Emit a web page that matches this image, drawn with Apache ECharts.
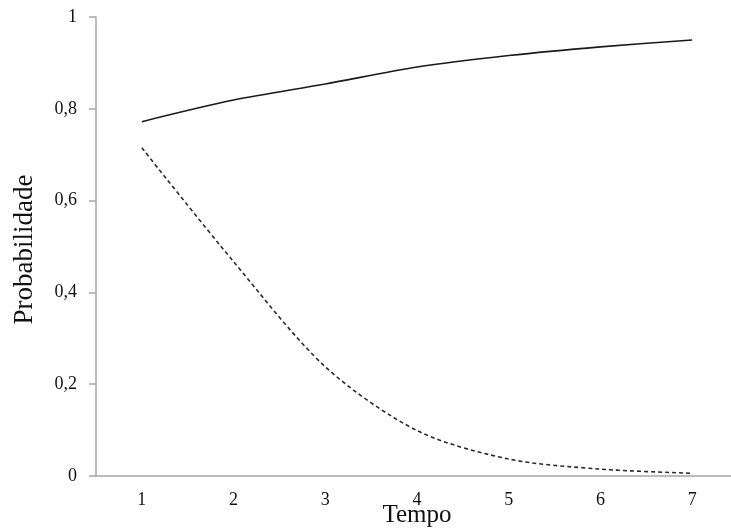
<!DOCTYPE html>
<html>
<head>
<meta charset="utf-8">
<script src="https://cdn.jsdelivr.net/npm/echarts@6/dist/echarts.min.js"></script>
<style>
  html, body { margin: 0; padding: 0; background: #fff; }
  #chart { width: 731px; height: 528px; }
</style>
</head>
<body>
<div id="chart"></div>
<script>
const tempos = ["1", "2", "3", "4", "5", "6", "7"];
const solidValues = [0.772, 0.819, 0.854, 0.891, 0.916, 0.935, 0.950];
const dashedValues = [0.715, 0.467, 0.238, 0.099, 0.037, 0.015, 0.006];
const yTicks = [0, 0.2, 0.4, 0.6, 0.8, 1];

const chart = echarts.init(document.getElementById("chart"));
const font = "Liberation Serif";
const axisGray = "#a6a6a6";

chart.setOption({
  animation: false,
  grid: {
    left: 96, top: 17, bottom: 52, width: 642,
    containLabel: false,
    outerBoundsMode: "none"
  },
  xAxis: {
    type: "category",
    data: tempos,
    boundaryGap: true,
    name: "Tempo",
    nameLocation: "middle",
    nameGap: 27,
    nameMoveOverlap: false,
    nameTextStyle: { fontFamily: font, fontSize: 25, color: "#111", verticalAlign: "top" },
    axisLine: { lineStyle: { color: axisGray, width: 1.5 } },
    axisTick: { length: 7, lineStyle: { color: axisGray, width: 1.5 } },
    axisLabel: { fontFamily: font, fontSize: 18, color: "#111", margin: 15 }
  },
  yAxis: {
    type: "value",
    min: 0,
    max: 1,
    interval: 0.2,
    name: "Probabilidade",
    nameLocation: "middle",
    nameRotate: 90,
    nameGap: 58,
    nameMoveOverlap: false,
    nameTextStyle: { fontFamily: font, fontSize: 27, color: "#111", padding: [0, 6, 0, 0] },
    axisLine: { show: true, lineStyle: { color: axisGray, width: 1.5 } },
    axisTick: { show: true, length: 7, lineStyle: { color: axisGray, width: 1.5 } },
    splitLine: { show: false },
    axisLabel: {
      fontFamily: font,
      fontSize: 18,
      color: "#111",
      margin: 19,
      formatter: v => {
        const t = yTicks.find(x => Math.abs(x - v) < 1e-9);
        return t === undefined ? "" : String(t).replace(".", ",");
      }
    }
  },
  series: [
    {
      type: "line",
      data: solidValues,
      smooth: 0.3,
      showSymbol: false,
      lineStyle: { color: "#1a1a1a", width: 1.6 }
    },
    {
      type: "line",
      data: dashedValues,
      smooth: 0.3,
      showSymbol: false,
      lineStyle: { color: "#2a2a2a", width: 1.6, type: [4, 3] }
    }
  ]
});
</script>
</body>
</html>
